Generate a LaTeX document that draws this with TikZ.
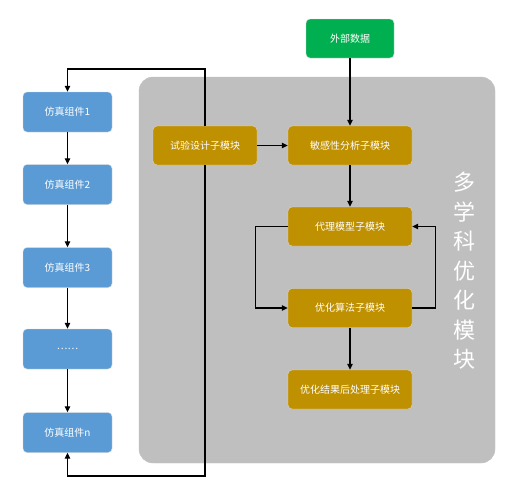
\documentclass[tikz,border=0pt]{standalone}
\usepackage{fontspec}
\newfontfamily\cjk{Noto Sans CJK SC}
\usetikzlibrary{arrows.meta}
\definecolor{panelgray}{HTML}{BFBFBF}
\definecolor{simblue}{HTML}{5B9BD5}
\definecolor{modgold}{HTML}{BF9000}
\definecolor{extgreen}{HTML}{00B050}
\tikzset{
  box/.style={rounded corners=4pt, text=white, minimum height=39pt, inner sep=0pt,
    font=\cjk\fontsize{10}{12}\selectfont, draw=white!85!black, line width=0.4pt},
  simbox/.style={box, fill=simblue, minimum width=89pt, minimum height=40pt},
  modbox/.style={box, fill=modgold, minimum width=124pt},
  conn/.style={line width=1.2pt, -{Triangle[length=6pt,width=5.5pt]}},
  plain/.style={line width=1.2pt}
}
\begin{document}
\begin{tikzpicture}[x=1pt,y=-1pt]
\useasboundingbox (0,0) rectangle (510,490);
% panel
\fill[panelgray, draw=white!75!black, line width=0.4pt, rounded corners=14pt] (139,77) rectangle (495,463);
\node[text=white, align=center, font=\cjk\fontsize{22}{29.5}\selectfont] (title) at (464,271) {多\\学\\科\\优\\化\\模\\块};
% simulation boxes
\node[simbox] (s1) at (67.5,112) {仿真组件1};
\node[simbox] (s2) at (67.5,184.5) {仿真组件2};
\node[simbox] (s3) at (67.5,267.5) {仿真组件3};
\node[simbox] (s4) at (67.5,349) {……};
\node[simbox] (s5) at (67.5,432.5) {仿真组件n};
% modules
\node[modbox, minimum width=104pt] (doe) at (205,145.5) {试验设计子模块};
\node[modbox] (sa) at (350,145.5) {敏感性分析子模块};
\node[box, fill=extgreen, minimum width=88pt] (ext) at (350,38.5) {外部数据};
\node[modbox] (sm) at (350,226.5) {代理模型子模块};
\node[modbox] (opt) at (350,308) {优化算法子模块};
\node[modbox] (post) at (350,389.5) {优化结果后处理子模块};
% connectors
\coordinate (tl) at (67.5,69);
\coordinate (tr) at (205,69);
\coordinate (br) at (205,476);
\coordinate (bl) at (67.5,476);
\draw[conn] (doe.north) -- (tr) -- (tl) -- (s1.north);
\draw[conn] (doe.south) -- (br) -- (bl) -- (s5.south);
\draw[conn] (s1) -- (s2);
\draw[conn] (s2) -- (s3);
\draw[conn] (s3) -- (s4);
\draw[conn] (s4) -- (s5);
\draw[conn] (ext) -- (sa);
\draw[conn] (doe) -- (sa);
\draw[conn] (sa) -- (sm);
\draw[conn] (sm.west) -- ++(-32,0) |- (opt.west);
\draw[conn] (opt.east) -- ++(23,0) |- (sm.east);
\draw[conn] (opt) -- (post);
\end{tikzpicture}
\end{document}
